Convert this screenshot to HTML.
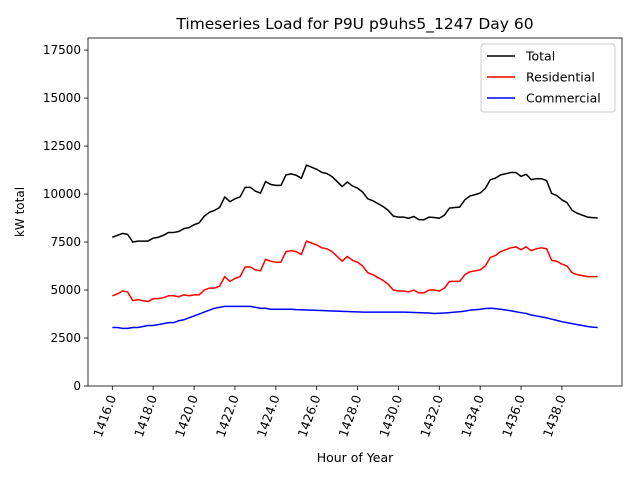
<!DOCTYPE html>
<html><head><meta charset="utf-8"><style>
body{margin:0;background:#fff;font-family:"DejaVu Sans","Liberation Sans",sans-serif;}
svg text{font-family:"DejaVu Sans","Liberation Sans",sans-serif;}
</style></head><body>
<svg id="c" width="640" height="480" viewBox="0 0 640 480" xmlns="http://www.w3.org/2000/svg">
<rect width="640" height="480" fill="#fff"/>
<text x="355" y="29" font-size="15.5" text-anchor="middle">Timeseries Load for P9U p9uhs5_1247  Day 60</text>
<text x="24" y="212" font-size="12" text-anchor="middle" transform="rotate(-90 24 212)">kW total</text>
<text x="355" y="462" font-size="12.5" text-anchor="middle">Hour of Year</text>
<g id="plot"></g>
</svg>
<script>
const startHour = 1416;
const residential = [4700,4800,4950,4900, 4450,4500,4450,4400, 4550,4550,4600,4700, 4700,4650,4750,4700,
 4750,4750,5000,5100, 5100,5200,5700,5450, 5600,5700,6200,6200, 6050,6000,6600,6500,
 6450,6450,7000,7050, 7000,6850,7550,7450, 7350,7200,7150,7000, 6750,6500,6750,6550,
 6450,6250,5900,5800, 5650,5500,5300,5000, 4950,4950,4900,5000, 4850,4850,5000,5000,
 4950,5100,5450,5450, 5450,5800,5950,6000, 6050,6250,6700,6800, 7000,7100,7200,7250,
 7100,7250,7050,7150, 7200,7150,6550,6500, 6350,6250,5900,5800, 5750,5700,5700,5700];
const commercial = [3050,3050,3000,3000, 3050,3050,3100,3150, 3150,3200,3250,3300, 3300,3400,3450,3550,
 3650,3750,3850,3950, 4050,4100,4150,4150, 4150,4150,4150,4150, 4100,4050,4050,4000,
 4000,4000,4000,4000, 3980,3970,3960,3950, 3940,3930,3920,3910, 3900,3890,3880,3870,
 3860,3850,3850,3850, 3850,3850,3850,3850, 3850,3850,3840,3830, 3820,3810,3800,3780,
 3790,3800,3820,3850, 3870,3900,3950,3970, 4000,4040,4050,4030, 4000,3960,3920,3870,
 3820,3780,3700,3650, 3600,3550,3480,3420, 3350,3300,3250,3200, 3150,3100,3070,3050];
const total = residential.map((r,i)=>r+commercial[i]);
const yTicks = [0,2500,5000,7500,10000,12500,15000,17500];
const xTicks = [1416,1418,1420,1422,1424,1426,1428,1430,1432,1434,1436,1438];
const X0=88,X1=622,Y0=38,Y1=386;
const xmin=1414.81,xmax=1440.94,ymin=0,ymax=18130;
const sx=v=>X0+(v-xmin)/(xmax-xmin)*(X1-X0);
const sy=v=>Y1-(v-ymin)/(ymax-ymin)*(Y1-Y0);
const NS="http://www.w3.org/2000/svg";
const g=document.getElementById('plot');
function mk(t,a){const e=document.createElementNS(NS,t);for(const k in a)e.setAttribute(k,a[k]);g.appendChild(e);return e;}
yTicks.forEach(v=>{
 const l=mk('line',{x1:X0-4,x2:X0,y1:sy(v),y2:sy(v),stroke:'#000','stroke-width':0.8});
 
 
 const t=mk('text',{x:X0-7,y:sy(v)+4,'font-size':12,'text-anchor':'end'});t.textContent=v;
 
 
});
xTicks.forEach(v=>{
 const l=mk('line',{x1:sx(v),x2:sx(v),y1:Y1,y2:Y1+4,stroke:'#000','stroke-width':0.8});
 
 
 const x=sx(v)+4,y=Y1+11;
 const t=mk('text',{x:x,y:y,'font-size':12.5,'text-anchor':'end',transform:`rotate(-70 ${x} ${y})`});t.textContent=v.toFixed(1);
 
 
});
function line(arr,color,name){
 const d=arr.map((v,i)=>(i?'L':'M')+sx(startHour+i*0.25).toFixed(2)+' '+sy(v).toFixed(2)).join(' ');
 const p=mk('path',{d:d,fill:'none',stroke:color,'stroke-width':1.5,'stroke-linejoin':'round'});
 
 
}
line(total,'#000','total-line');
line(residential,'#f00','residential-line');
line(commercial,'#00f','commercial-line');
const fr=mk('rect',{x:X0,y:Y0,width:X1-X0,height:Y1-Y0,fill:'none',stroke:'#000','stroke-width':0.8});


const lg=mk('rect',{x:481,y:44,width:134,height:68,fill:'#fff',stroke:'#ccc','stroke-width':1,rx:3});


[['Total','#000'],['Residential','#f00'],['Commercial','#00f']].forEach((e,i)=>{
 const y=56+i*21;
 const l=mk('line',{x1:487,x2:515,y1:y,y2:y,stroke:e[1],'stroke-width':1.5});
 
 
 const t=mk('text',{x:526,y:y+4.5,'font-size':12.5});t.textContent=e[0];
 
 
});
</script>
</body></html>
